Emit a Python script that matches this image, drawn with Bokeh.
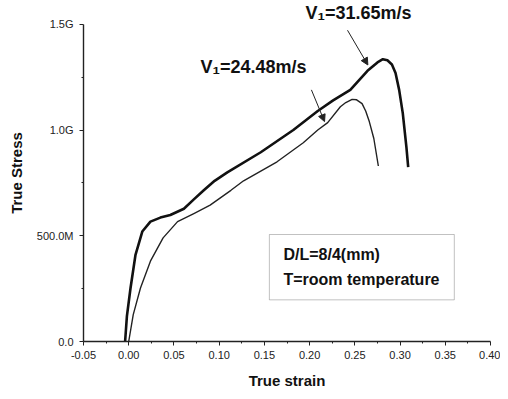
from bokeh.plotting import figure
from bokeh.models import (FixedTicker, Label, Arrow, NormalHead, BoxAnnotation, Range1d)
from bokeh.embed import file_html
from bokeh.resources import INLINE

# Curve for V1 = 31.65 m/s (thick)
strain_3165 = [-0.004, -0.002, 0.002, 0.0075, 0.015, 0.024, 0.035, 0.046, 0.061, 0.072,
               0.083, 0.095, 0.109, 0.146, 0.182, 0.209, 0.226, 0.245, 0.264, 0.275,
               0.281, 0.286, 0.291, 0.295, 0.299, 0.303, 0.307, 0.309]
stress_3165 = [0.0, 0.12e9, 0.253e9, 0.41e9, 0.52e9, 0.567e9, 0.586e9, 0.598e9, 0.628e9, 0.672e9,
               0.715e9, 0.76e9, 0.80e9, 0.895e9, 1.0e9, 1.09e9, 1.14e9, 1.19e9, 1.28e9, 1.32e9,
               1.335e9, 1.33e9, 1.31e9, 1.27e9, 1.19e9, 1.08e9, 0.92e9, 0.825e9]

# Curve for V1 = 24.48 m/s (thin)
strain_2448 = [0.0, 0.005, 0.013, 0.024, 0.038, 0.054, 0.072, 0.090, 0.113, 0.127,
               0.164, 0.193, 0.209, 0.220, 0.234, 0.240, 0.247, 0.252, 0.258, 0.262,
               0.266, 0.271, 0.276]
stress_2448 = [0.0, 0.127e9, 0.253e9, 0.38e9, 0.49e9, 0.567e9, 0.605e9, 0.645e9, 0.715e9, 0.76e9,
               0.85e9, 0.94e9, 1.0e9, 1.035e9, 1.11e9, 1.13e9, 1.145e9, 1.143e9, 1.125e9, 1.09e9,
               1.04e9, 0.96e9, 0.83e9]

x_ticks = [-0.05, 0.0, 0.05, 0.10, 0.15, 0.20, 0.25, 0.30, 0.35, 0.40]
x_tick_labels = ["-0.05", "0.00", "0.05", "0.10", "0.15", "0.20", "0.25", "0.30", "0.35", "0.40"]
x_minor = [-0.025, 0.025, 0.075, 0.125, 0.175, 0.225, 0.275, 0.325, 0.375]
y_ticks = [0.0, 0.5e9, 1.0e9, 1.5e9]
y_tick_labels = ["0.0", "500.0M", "1.0G", "1.5G"]
y_minor = [0.25e9, 0.75e9, 1.25e9]

FONT = "Liberation Sans"

p = figure(width=500, height=391, output_backend="svg", toolbar_location=None,
           x_range=Range1d(-0.05, 0.40), y_range=Range1d(0, 1.59375e9),
           min_border_left=83, min_border_right=10, min_border_top=4, min_border_bottom=47)
p.outline_line_color = None
p.xgrid.visible = False
p.ygrid.visible = False
p.background_fill_color = "white"

p.line(strain_3165, stress_3165, line_color="#111111", line_width=2.6, line_join="round")
p.line(strain_2448, stress_2448, line_color="#222222", line_width=1.4, line_join="round")

for ax in (p.xaxis[0], p.yaxis[0]):
    ax.axis_line_color = "#222222"
    ax.axis_line_width = 1.4
    ax.major_tick_line_color = "#222222"
    ax.minor_tick_line_color = "#222222"
    ax.major_tick_out = 4
    ax.major_tick_in = 0
    ax.minor_tick_out = 2
    ax.minor_tick_in = 0
    ax.major_label_text_font = FONT
    ax.major_label_text_font_size = "11px"
    ax.major_label_text_color = "#222222"
    ax.axis_label_text_font = FONT
    ax.axis_label_text_font_size = "15px"
    ax.axis_label_text_font_style = "bold"
    ax.axis_label_text_color = "#111111"

p.xaxis.ticker = FixedTicker(ticks=x_ticks, minor_ticks=x_minor)
p.xaxis.major_label_overrides = dict(zip(x_ticks, x_tick_labels))
p.xaxis.axis_label = "True strain"
p.xaxis.major_label_standoff = 5
p.xaxis.axis_label_standoff = 10

p.yaxis.ticker = FixedTicker(ticks=y_ticks, minor_ticks=y_minor)
p.yaxis.major_label_overrides = dict(zip(y_ticks, y_tick_labels))
p.yaxis.bounds = (0, 1.5e9)
p.yaxis.axis_label = "True Stress"
p.yaxis.major_label_standoff = 6
p.yaxis.axis_label_standoff = 9

# Curve labels and arrows
p.add_layout(Label(x=0.1955, y=1.505e9, text="V\u2081=31.65m/s", text_font=FONT,
                   text_font_size="18px", text_font_style="bold", text_color="#111111"))
p.add_layout(Label(x=0.0794, y=1.25e9, text="V\u2081=24.48m/s", text_font=FONT,
                   text_font_size="18px", text_font_style="bold", text_color="#111111"))
p.add_layout(Arrow(end=NormalHead(size=7, fill_color="#222222", line_color="#222222"),
                   x_start=0.2419, y_start=1.472e9, x_end=0.2644, y_end=1.308e9,
                   line_width=1, line_color="#222222"))
p.add_layout(Arrow(end=NormalHead(size=7, fill_color="#222222", line_color="#222222"),
                   x_start=0.202, y_start=1.19e9, x_end=0.2165, y_end=1.04e9,
                   line_width=1, line_color="#222222"))

# Info box
p.add_layout(BoxAnnotation(left=0.1555, right=0.360, bottom=0.197e9, top=0.506e9,
                           fill_color="white", fill_alpha=1.0,
                           line_color="#333333", line_width=1))
p.add_layout(Label(x=0.1711, y=0.370e9, text="D/L=8/4(mm)", text_font=FONT,
                   text_font_size="16px", text_font_style="bold", text_color="#111111"))
p.add_layout(Label(x=0.1711, y=0.253e9, text="T=room temperature", text_font=FONT,
                   text_font_size="16px", text_font_style="bold", text_color="#111111"))

open("out.html", "w").write(file_html(p, INLINE))
